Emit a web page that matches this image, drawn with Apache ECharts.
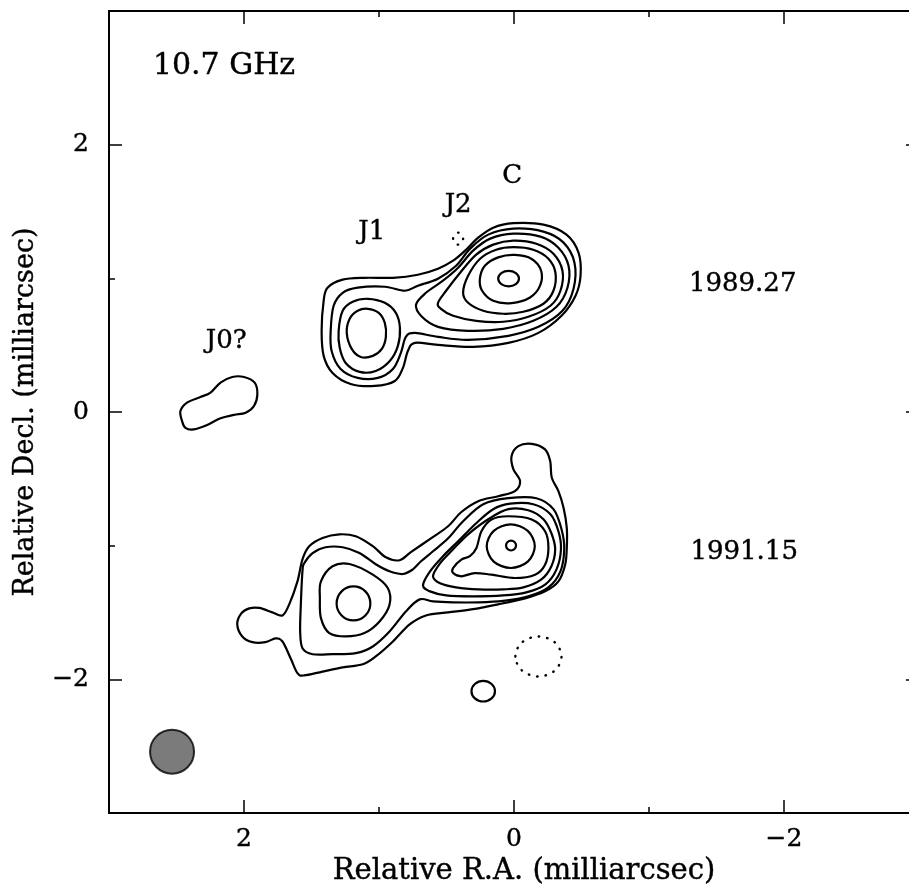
<!DOCTYPE html>
<html>
<head>
<meta charset="utf-8">
<script src="https://cdn.jsdelivr.net/npm/echarts@6/dist/echarts.min.js"></script>
<style>
  html, body { margin: 0; padding: 0; background: #fff; }
  #chart { width: 909px; height: 896px; }
</style>
</head>
<body>
<div id="chart"></div>
<script>
// axis ticks (milliarcsec)
const majorTicks = [-2, 0, 2]
const minorTicks = [-1, 1]

// ---- epoch 1989.27 ----
const j0Blob = [[2.459,-0.067],[2.471,0.007],[2.422,0.070],[2.323,0.112],[2.248,0.145],[2.174,0.220],[2.087,0.262],[2.000,0.262],[1.921,0.220],[1.901,0.133],[1.926,0.045],[1.988,-0.005],[2.074,-0.022],[2.174,-0.047],[2.273,-0.097],[2.372,-0.130],[2.434,-0.118]]
const up1 = [[1.425,0.607],[1.410,0.832],[1.381,0.930],[1.269,0.990],[1.106,1.004],[0.897,1.004],[0.712,1.027],[0.563,1.072],[0.451,1.132],[0.362,1.207],[0.265,1.304],[0.154,1.379],[0.005,1.413],[-0.218,1.402],[-0.389,1.327],[-0.478,1.192],[-0.493,1.019],[-0.456,0.870],[-0.352,0.720],[-0.181,0.592],[0.042,0.517],[0.303,0.487],[0.563,0.502],[0.734,0.517],[0.786,0.457],[0.823,0.330],[0.883,0.232],[1.031,0.195],[1.210,0.210],[1.344,0.292],[1.410,0.420]]
const up2 = [[1.358,0.607],[1.336,0.795],[1.269,0.892],[1.158,0.930],[0.957,0.937],[0.808,0.907],[0.712,0.945],[0.563,0.997],[0.429,1.094],[0.325,1.222],[0.191,1.327],[0.005,1.372],[-0.218,1.349],[-0.367,1.267],[-0.448,1.117],[-0.441,0.922],[-0.359,0.757],[-0.181,0.637],[0.042,0.570],[0.340,0.540],[0.563,0.562],[0.734,0.592],[0.801,0.562],[0.838,0.442],[0.897,0.322],[1.009,0.255],[1.158,0.255],[1.284,0.322],[1.351,0.457]]
const upJ1a = [[1.299,0.607],[1.269,0.757],[1.195,0.825],[1.083,0.847],[0.957,0.817],[0.875,0.742],[0.845,0.630],[0.860,0.495],[0.920,0.382],[1.024,0.307],[1.143,0.300],[1.247,0.367],[1.291,0.480]]
const upJ1b = [[1.239,0.592],[1.217,0.697],[1.158,0.757],[1.083,0.772],[1.002,0.742],[0.957,0.667],[0.949,0.562],[0.979,0.472],[1.046,0.420],[1.135,0.412],[1.202,0.472]]
const upC3 = [[0.726,0.802],[0.652,0.892],[0.526,0.982],[0.414,1.079],[0.303,1.207],[0.176,1.297],[0.005,1.334],[-0.196,1.312],[-0.329,1.229],[-0.404,1.094],[-0.396,0.930],[-0.315,0.787],[-0.143,0.682],[0.080,0.622],[0.340,0.607],[0.563,0.637],[0.682,0.712]]
const upC4 = [[0.563,0.817],[0.503,0.907],[0.399,1.042],[0.280,1.177],[0.154,1.252],[0.005,1.282],[-0.166,1.259],[-0.292,1.184],[-0.359,1.057],[-0.344,0.907],[-0.270,0.795],[-0.106,0.712],[0.080,0.675],[0.280,0.682],[0.451,0.720],[0.541,0.772]]
const upC5 = [[0.377,0.892],[0.340,1.019],[0.251,1.147],[0.132,1.214],[0.005,1.233],[-0.143,1.214],[-0.255,1.147],[-0.307,1.042],[-0.292,0.907],[-0.218,0.810],[-0.069,0.750],[0.080,0.735],[0.228,0.757],[0.340,0.817]]
const upC6 = [[0.253,0.995],[0.216,1.094],[0.117,1.157],[-0.007,1.175],[-0.131,1.145],[-0.201,1.057],[-0.193,0.945],[-0.119,0.857],[0.018,0.815],[0.154,0.832],[0.236,0.907]]
const upC7 = [[0.117,0.998],[0.094,1.039],[0.040,1.056],[-0.014,1.039],[-0.037,0.998],[-0.014,0.957],[0.040,0.940],[0.094,0.957]]
const upNeg = [[0.451,1.297],[0.440,1.329],[0.414,1.342],[0.388,1.329],[0.377,1.297],[0.388,1.265],[0.414,1.252],[0.440,1.265]]

// ---- epoch 1991.15 ----
const lo1 = [[2.050,-1.589],[2.020,-1.507],[1.961,-1.469],[1.886,-1.466],[1.790,-1.499],[1.715,-1.522],[1.665,-1.439],[1.604,-1.267],[1.567,-1.102],[1.517,-1.004],[1.418,-0.942],[1.294,-0.915],[1.172,-0.930],[1.046,-1.004],[0.949,-1.087],[0.848,-1.109],[0.764,-1.049],[0.615,-0.945],[0.488,-0.855],[0.392,-0.750],[0.265,-0.667],[0.117,-0.630],[-0.007,-0.592],[-0.045,-0.517],[0.005,-0.427],[0.018,-0.330],[-0.032,-0.255],[-0.131,-0.238],[-0.230,-0.280],[-0.268,-0.367],[-0.280,-0.492],[-0.329,-0.592],[-0.367,-0.717],[-0.391,-0.867],[-0.391,-1.017],[-0.379,-1.142],[-0.329,-1.267],[-0.230,-1.342],[-0.082,-1.394],[0.117,-1.439],[0.317,-1.477],[0.488,-1.499],[0.652,-1.522],[0.773,-1.589],[0.897,-1.717],[1.024,-1.829],[1.120,-1.887],[1.269,-1.911],[1.418,-1.942],[1.554,-1.971],[1.604,-1.954],[1.654,-1.844],[1.715,-1.717],[1.767,-1.694],[1.842,-1.722],[1.938,-1.722],[2.013,-1.679]]
const lo2 = [[1.584,-1.642],[1.579,-1.439],[1.567,-1.192],[1.554,-1.132],[1.492,-1.055],[1.396,-1.012],[1.269,-1.012],[1.145,-1.055],[1.024,-1.139],[0.922,-1.192],[0.823,-1.212],[0.749,-1.177],[0.689,-1.117],[0.600,-1.042],[0.488,-0.945],[0.377,-0.817],[0.228,-0.690],[0.042,-0.645],[-0.166,-0.645],[-0.292,-0.727],[-0.352,-0.877],[-0.372,-1.027],[-0.344,-1.192],[-0.255,-1.312],[-0.106,-1.379],[0.080,-1.413],[0.265,-1.424],[0.451,-1.424],[0.600,-1.417],[0.699,-1.402],[0.801,-1.492],[0.922,-1.642],[1.046,-1.754],[1.172,-1.804],[1.344,-1.812],[1.492,-1.812],[1.567,-1.767]]
const loJ1a = [[1.430,-1.267],[1.344,-1.154],[1.219,-1.137],[1.046,-1.217],[0.935,-1.317],[0.922,-1.442],[0.996,-1.567],[1.108,-1.654],[1.245,-1.679],[1.368,-1.654],[1.430,-1.542],[1.438,-1.392]]
const loJ1b = [[1.314,-1.432],[1.277,-1.342],[1.189,-1.305],[1.101,-1.342],[1.064,-1.432],[1.101,-1.522],[1.189,-1.559],[1.277,-1.522]]
const loC3 = [[0.674,-1.297],[0.622,-1.192],[0.526,-1.079],[0.414,-0.967],[0.280,-0.832],[0.154,-0.727],[0.028,-0.686],[-0.143,-0.690],[-0.270,-0.765],[-0.329,-0.892],[-0.348,-1.027],[-0.315,-1.177],[-0.233,-1.289],[-0.091,-1.349],[0.080,-1.372],[0.303,-1.379],[0.503,-1.372],[0.622,-1.342]]
const loC4 = [[0.600,-1.229],[0.548,-1.132],[0.451,-1.027],[0.340,-0.915],[0.191,-0.802],[0.042,-0.727],[-0.106,-0.735],[-0.218,-0.802],[-0.277,-0.907],[-0.305,-1.027],[-0.277,-1.154],[-0.203,-1.252],[-0.069,-1.312],[0.080,-1.327],[0.265,-1.327],[0.429,-1.312],[0.548,-1.282]]
const loC5 = [[0.451,-1.167],[0.390,-1.104],[0.327,-1.079],[0.278,-1.017],[0.241,-0.892],[0.167,-0.804],[0.042,-0.780],[-0.131,-0.804],[-0.230,-0.892],[-0.255,-1.017],[-0.230,-1.142],[-0.156,-1.217],[-0.007,-1.242],[0.167,-1.217],[0.290,-1.205],[0.390,-1.229],[0.451,-1.205]]
const loC6 = [[0.202,-1.004],[0.150,-0.889],[0.024,-0.841],[-0.102,-0.889],[-0.154,-1.004],[-0.102,-1.119],[0.024,-1.167],[0.150,-1.119]]
const loC7 = [[0.059,-0.999],[0.048,-0.973],[0.022,-0.962],[-0.004,-0.973],[-0.015,-0.999],[-0.004,-1.025],[0.022,-1.036],[0.048,-1.025]]
const loSpot = [[0.315,-2.089],[0.290,-2.035],[0.228,-2.012],[0.166,-2.035],[0.141,-2.089],[0.166,-2.143],[0.228,-2.166],[0.290,-2.143]]
const loNeg = [[-0.010,-1.829],[-0.060,-1.723],[-0.181,-1.679],[-0.302,-1.723],[-0.352,-1.829],[-0.302,-1.935],[-0.181,-1.979],[-0.060,-1.935]]

// restoring beam position
const beam = [[2.533, -2.541]]

// annotations [text, x, y]
const notes = [
  ['10.7 GHz', 2.675, 2.586],
  ['J0?', 2.132, 0.532],
  ['J1', 1.054, 1.342],
  ['J2', 0.414, 1.544],
  ['C', 0.013, 1.762],
  ['1989.27', -1.694, 0.952],
  ['1991.15', -1.705, -1.049]
]

const solid = [j0Blob, up1, up2, upJ1a, upJ1b, upC3, upC4, upC5, upC6, upC7,
  lo1, lo2, loJ1a, loJ1b, loC3, loC4, loC5, loC6, loC7, loSpot]
const dotted = [upNeg, loNeg]

const font = '"DejaVu Serif", serif'
const fmt = v => (v < 0 ? '\u2212' + (-v) : String(v))

// closed Catmull-Rom curve through the projected points
function closedPath(px) {
  const n = px.length
  const at = i => px[(i + n) % n]
  let d = 'M' + px[0][0] + ' ' + px[0][1]
  for (let i = 0; i < n; i++) {
    const p0 = at(i - 1), p1 = at(i), p2 = at(i + 1), p3 = at(i + 2)
    const c1x = p1[0] + (p2[0] - p0[0]) / 6, c1y = p1[1] + (p2[1] - p0[1]) / 6
    const c2x = p2[0] - (p3[0] - p1[0]) / 6, c2y = p2[1] - (p3[1] - p1[1]) / 6
    d += ' C' + c1x + ' ' + c1y + ' ' + c2x + ' ' + c2y + ' ' + p2[0] + ' ' + p2[1]
  }
  return d + ' Z'
}

function contourSeries(pts, dash) {
  return {
    type: 'custom',
    silent: true,
    data: pts,
    renderItem: (params, api) => {
      if (params.dataIndex !== 0) return null
      const px = pts.map(p => api.coord(p))
      return {
        type: 'path',
        shape: { pathData: closedPath(px) },
        style: {
          fill: 'none', stroke: '#000', lineWidth: dash ? 2.4 : 2.2,
          lineDash: dash ? [0.5, 8] : null, lineCap: 'round', lineJoin: 'round'
        }
      }
    }
  }
}

function makeAxis(dim, pos, ticks, len, labels, name) {
  const ax = {
    type: 'value',
    min: -3,
    max: 3,
    position: pos,
    inverse: dim === 'x',
    splitLine: { show: false },
    axisLine: { show: true, onZero: false, lineStyle: { color: '#000', width: 2 } },
    axisTick: { show: true, inside: true, length: len, customValues: ticks, lineStyle: { color: '#000', width: 1.5 } },
    axisLabel: labels
      ? { show: true, customValues: ticks, formatter: fmt, color: '#000', fontSize: 25, fontFamily: font,
          margin: dim === 'x' ? 14 : 20, textBorderColor: '#000', textBorderWidth: 0.4 }
      : { show: false }
  }
  if (name) {
    ax.name = name
    ax.nameLocation = 'middle'
    ax.nameGap = dim === 'x' ? 44 : 70
    ax.nameTextStyle = {
      color: '#000', fontSize: dim === 'x' ? 29 : 27, fontFamily: font,
      textBorderColor: '#000', textBorderWidth: 0.4,
      padding: dim === 'x' ? [0, 0, 0, 20] : 0
    }
  }
  return ax
}

const series = []
solid.forEach(c => series.push(contourSeries(c, false)))
dotted.forEach(c => series.push(contourSeries(c, true)))
series.push({
  type: 'scatter', data: beam, symbol: 'circle', symbolSize: 44, silent: true,
  itemStyle: { color: '#5a5a5a', borderColor: '#000', borderWidth: 2 }
})
series.push({
  type: 'custom', silent: true,
  data: notes.map(n => [n[1], n[2], n[0]]),
  dimensions: ['x', 'y', 'text'],
  renderItem: (params, api) => {
    const n = notes[params.dataIndex]
    const p = api.coord([n[1], n[2]])
    const big = n[0] === '10.7 GHz'
    return {
      type: 'text', x: p[0], y: p[1],
      style: {
        text: n[0], fill: '#000', stroke: '#000', lineWidth: 0.4,
        font: (big ? 30 : 26) + 'px ' + font,
        align: big ? 'left' : 'center', verticalAlign: 'middle'
      }
    }
  }
})

const option = {
  animation: false,
  backgroundColor: '#fff',
  grid: { left: 109, top: 11, width: 810, height: 802, outerBoundsMode: 'none', containLabel: false },
  xAxis: [
    makeAxis('x', 'bottom', majorTicks, 13, true, 'Relative R.A. (milliarcsec)'),
    makeAxis('x', 'bottom', minorTicks, 6, false),
    makeAxis('x', 'top', majorTicks, 13, false),
    makeAxis('x', 'top', minorTicks, 6, false)
  ],
  yAxis: [
    makeAxis('y', 'left', majorTicks, 13, true, 'Relative Decl. (milliarcsec)'),
    makeAxis('y', 'left', minorTicks, 6, false),
    makeAxis('y', 'right', majorTicks, 13, false),
    makeAxis('y', 'right', minorTicks, 6, false)
  ],
  series: series
}

const chart = echarts.init(document.getElementById('chart'))
chart.setOption(option)
window.addEventListener('resize', () => chart.resize())
</script>
</body>
</html>
